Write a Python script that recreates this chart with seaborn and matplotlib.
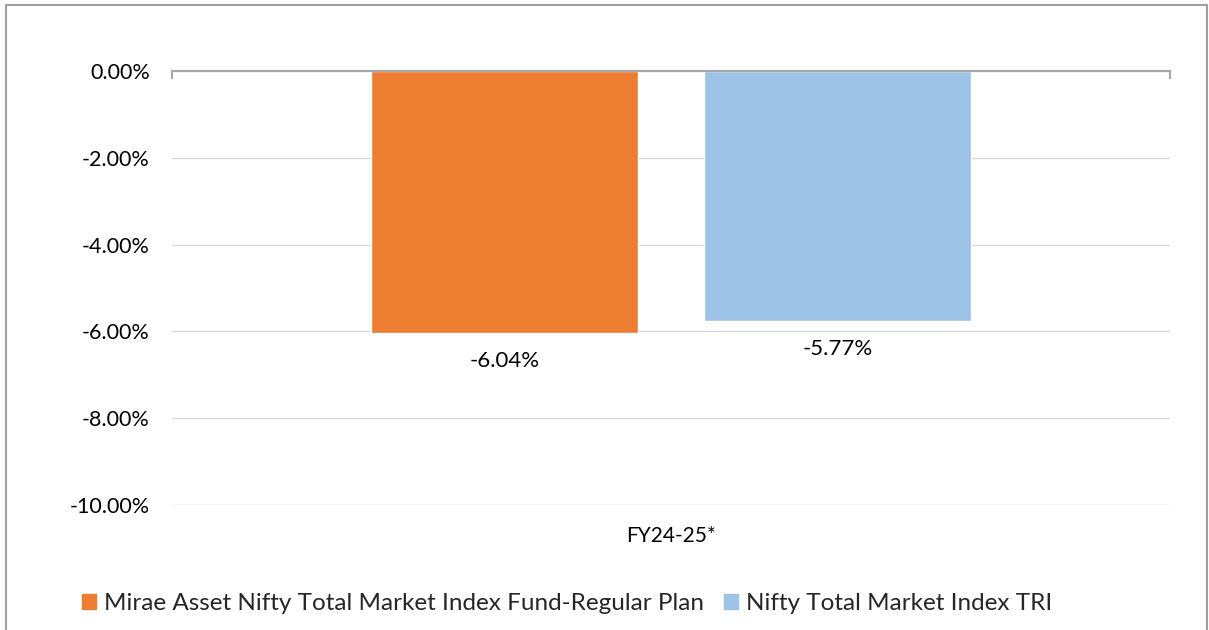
import matplotlib
matplotlib.use("Agg")
import matplotlib.pyplot as plt
import seaborn as sns
import pandas as pd
from matplotlib.patches import Rectangle
from matplotlib.ticker import FuncFormatter

categories = ["FY24-25*"]
series_names = ["Mirae Asset Nifty Total Market Index Fund-Regular Plan", "Nifty Total Market Index TRI"]
series_values = [-6.04, -5.77]
colors = ["#ED7D31", "#9DC3E6"]
y_ticks = [0, -2, -4, -6, -8, -10]

sns.set_theme(style="white")
plt.rcParams['font.family'] = ['Lato', 'DejaVu Sans']

df = pd.DataFrame({"cat": categories * len(series_names), "series": series_names, "value": series_values})

fig = plt.figure(figsize=(12.09, 6.30), dpi=100)
ax = fig.add_axes([172/1209, 1-505/630, (1170-172)/1209, (505-71)/630])

sns.barplot(data=df, x="cat", y="value", hue="series", hue_order=series_names,
            palette=colors, width=0.668, gap=0.2, ax=ax, legend=False, saturation=1)

ax.set_ylim(-10, 0)
ax.set_xlim(-0.5, 0.5)
ax.set_yticks(y_ticks)
ax.yaxis.set_major_formatter(FuncFormatter(lambda v, p: f"{v:.2f}%"))
ax.grid(axis="y", color="#d9d9d9", linewidth=1)
ax.set_axisbelow(True)
for s in ["left", "right", "bottom"]:
    ax.spines[s].set_visible(False)
ax.spines["top"].set_color("#a6a6a6")
ax.spines["top"].set_linewidth(1.5)
ax.set_xlabel("")
ax.set_ylabel("")
ax.tick_params(axis="y", length=0, pad=16, labelsize=15.5, labelcolor="#000000")
ax.tick_params(axis="x", length=0, pad=15, labelsize=15, labelcolor="#000000")

sec = ax.secondary_xaxis("top")
sec.set_xticks([-0.5, 0.5])
sec.set_xticklabels(["", ""])
sec.tick_params(direction="in", length=6, color="#a6a6a6", width=1.5)
sec.spines["top"].set_visible(False)

for cont in ax.containers:
    ax.bar_label(cont, fmt="%.2f%%", padding=13, fontsize=16, color="#000000")

handles = [Rectangle((0, 0), 1, 1, color=c) for c in colors]
fig.legend(handles, series_names, loc="center left", bbox_to_anchor=(72/1209, 1-604/630),
           ncol=2, frameon=False, fontsize=17.5, handlelength=0.58, handleheight=0.58,
           handletextpad=0.33, columnspacing=0.82, borderaxespad=0)

fig.patches.append(Rectangle((6/1209, -0.05), 1201/1209, 1.05 - 4.5/630, transform=fig.transFigure,
                             fill=False, edgecolor="#a0a0a0", linewidth=1.5))

fig.savefig("out.png", dpi=100)
